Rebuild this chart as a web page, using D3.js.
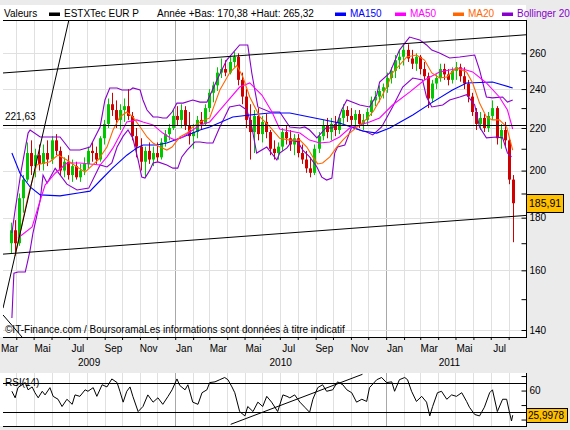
<!DOCTYPE html>
<html>
<head>
<meta charset="utf-8">
<title>ESTXTec EUR P</title>
<style>
  body { margin: 0; background: #ebebeb; }
  svg { display: block; font-family: "Liberation Sans", Arial, sans-serif; }
</style>
</head>
<body>
<svg id="chart" width="570" height="430"></svg>
<!-- load the d3.js library -->
<script src="https://d3js.org/d3.v7.min.js"></script>
<script>

// weekly candles (open, high, low, close), first week starts 23 march 2009
var firstWeek = "2009-03-23";
var candles = [
  [170,178,166,175],[175,179,166,170],[170,190,169,188],[188,198,182,196],[196,213,195,208],
  [208,214,198,202],[202,210,197,207],[207,212,200,203],[203,212,200,208],[208,214,202,205],
  [205,216,203,214],[214,217,207,209],[209,211,198,200],[200,206,197,204],[204,207,196,198],
  [198,205,195,202],[202,204,196,197],[197,203,195,200],[200,206,198,203],[203,211,201,209],
  [209,213,204,208],[208,211,203,205],[205,216,204,215],[215,224,212,222],[222,235,220,232],
  [232,238,226,229],[229,234,220,224],[224,232,219,229],[229,235,223,231],[231,240,224,226],
  [226,228,214,216],[216,220,206,211],[211,215,200,204],[204,211,197,209],[209,213,203,205],
  [205,211,202,208],[208,213,204,206],[206,215,205,213],[213,219,211,217],[217,222,214,220],
  [220,229,219,226],[226,231,221,224],[224,232,220,229],[229,231,219,221],[221,228,212,216],
  [216,222,210,218],[218,226,215,224],[224,228,219,222],[222,232,221,230],[230,240,228,238],
  [238,244,233,242],[242,252,239,249],[249,257,246,251],[251,256,247,249],[249,258,248,255],
  [255,261,252,258],[258,260,242,245],[245,249,232,236],[236,240,220,224],[224,232,205,218],
  [218,229,208,226],[226,230,214,217],[217,226,213,223],[223,227,215,218],[218,219,207,210],
  [210,214,205,208],[208,213,205,211],[211,220,209,218],[218,221,212,215],[215,219,209,212],
  [212,217,207,215],[215,217,206,208],[208,212,203,205],[205,209,199,201],[201,206,197,199],
  [199,212,198,210],[210,218,208,216],[216,224,214,221],[221,225,215,218],[218,225,214,222],
  [222,226,216,219],[219,227,217,225],[225,232,222,229],[229,231,223,226],[226,230,221,224],
  [224,229,220,227],[227,229,220,222],[222,227,219,224],[224,230,221,228],[228,236,226,234],
  [234,239,231,236],[236,242,233,239],[239,243,235,241],[241,249,238,246],[246,252,243,250],
  [250,259,246,256],[256,262,251,258],[258,265,253,262],[262,265.32,255,257],[257,262,251,254],
  [254,260,250,258],[258,259,248,251],[251,255,245,247],[247,249,230,235],[235,245,233,243],
  [243,248,240,246],[246,254,244,251],[251,254,245,248],[248,251,242,245],[245,252,243,250],
  [250,255,245,252],[252,254,244,247],[247,252,240,243],[243,245,233,236],[236,238,226,228],
  [228,230,219,222],[222,228,219,225],[225,227,218,220],[220,228,218,226],[226,234,224,230],
  [230,231,212,215],[215,222,210,219],[219,223,211,214],[214,215,194,196],[196,198,170.38,185.91]
];

// indicator lines as [week, value]
var ma150 = [[0.2,208],[2.2,198.8],[4.7,192.8],[7.2,189.4],[12.1,189],[17,190.3],[19.5,191],[22,195.5],
  [25,201],[28.6,207],[31.1,210.4],[32.6,211.8],[36,211.8],[38.5,212.7],[41.7,215],[44.9,217.5],
  [46.7,219],[49.1,220.5],[54.8,225.5],[59,226.5],[64,227.5],[68.9,227.5],[73.8,225.5],[81.2,222.5],
  [86.9,218.5],[90.4,217.5],[93.6,220],[99.3,226.5],[104.2,233.1],[109.1,239.5],[112.6,243.3],
  [119,243.8],[124,240.6]];

var ma50 = [[1.7,172],[5.2,176.3],[6.7,184.4],[8.4,193.6],[10.9,198.8],[13.8,203.4],[17,203.4],
  [22,202.5],[23.7,206.2],[25.2,210.4],[28.6,223],[31.1,224],[32.6,223],[35.1,221.5],[37.5,217.5],
  [39.3,215.2],[40.5,214.1],[42.5,215.6],[44.9,219],[46.7,221.5],[49.1,223],[52.3,230.6],[56.5,241.1],
  [59,243.3],[62,236.8],[64.5,228],[66.4,219.5],[71.4,217.5],[73.8,214.1],[76.3,212.7],[78.8,213.2],
  [81.2,215.6],[83.7,220],[86.2,221.5],[88.6,223],[91.1,225],[94.3,231.6],[98.5,238.4],[102.2,244.9],
  [105.9,249.4],[110.9,251.6],[114.1,249.4],[117.5,243.3],[120.7,235.8],[122.7,229],[124,219.5]];

var ma20 = [[1,165.2],[4.2,189],[6.3,202.5],[9.6,204],[11.6,207.1],[13.8,204.8],[16.3,201.6],[18.3,199.3],
  [21.5,204.8],[23.7,210.8],[25.2,219],[26.9,225.5],[28.6,228],[30.1,225.5],[31.9,220.5],[33.6,215.6],
  [35.1,212.7],[36.8,210.8],[38.5,209.4],[39.8,210.8],[41.7,215.6],[43.5,217.5],[44.9,220.5],[46.7,223],
  [49.1,225],[51.6,239.5],[54,248.8],[55.8,253],[57.3,246.6],[59,235.8],[61.5,225.5],[64,220.5],
  [66.4,215],[68.9,214.1],[71.4,214.1],[73.1,210.8],[74.6,206.2],[75.8,203],[77,203.4],[78.8,206.2],
  [80.5,210.8],[82,214.1],[83.7,217.5],[86.2,221.5],[87.9,224.5],[89.6,228.5],[91.1,234],[92.8,241],
  [94.3,248.8],[97.8,257.9],[100.2,259],[102.2,256.1],[104,248.8],[105.9,246],[107.7,246.6],
  [110.1,251.6],[112.6,249.4],[114.1,243.3],[115.8,232.6],[117.5,225.5],[119,224],[120.7,224],
  [122.5,220.5],[124,209.4]];

var bollUpper = [[0.2,173.9],[1,183.1],[2.5,200],[4.2,217.5],[4.7,219],[7.2,215.6],[9.6,215.6],
  [12.1,215.6],[14.6,209.4],[17,209.4],[19.5,210.8],[22,220.5],[23.2,234.2],[24.4,240.6],[26.2,240.6],
  [27.4,239.5],[29.4,239.5],[30.1,240.6],[31.9,239.5],[32.6,234.2],[33.6,229],[35.1,225.5],[36.3,225.5],
  [37.5,225],[38.5,225],[39.8,228],[41,232.6],[42.5,232.6],[44.9,234.2],[46.7,233.1],[48.4,233.1],
  [50.9,244.9],[53.3,256.1],[56.5,264.9],[58.5,264.9],[59.5,248.8],[61,230.6],[64,228],[66.4,228],
  [68.9,220.5],[71.4,220],[72.6,220.5],[73.8,219],[75.6,215.2],[77.8,220],[79.5,220],[80.7,223],
  [81.7,229],[83,234.2],[86.2,231.6],[88.6,230.6],[90.4,237],[91.1,243.8],[93.6,248.8],[96,261.9],
  [98.5,269.6],[101,267.9],[102.7,264.9],[104,261.9],[105.9,260.2],[108.4,257.3],[110.9,257.9],
  [114.6,259],[115.8,250.5],[117.5,235.8],[119,235.3],[121.5,235.8],[122.7,233.1],[124,234.2]];

var bollLower = [[0.2,143.8],[0.5,153.1],[0.7,159],[1.7,159.4],[3.5,159.4],[4,162.6],[4.7,167.4],
  [5.4,173.9],[6.3,180.3],[7.2,187.3],[7.9,198],[8.9,194.5],[9.6,196.7],[10.9,201],[13.8,194],
  [16.3,191.5],[19.2,192.3],[22,202.5],[23.7,201.6],[24.9,203.4],[26.2,210.8],[27.7,216],[28.9,219],
  [30.1,215],[31.4,204.8],[32.3,197.1],[33.1,196.7],[34.3,200.2],[35.1,203.4],[36.3,203.9],[38.5,202.5],
  [40,201.1],[41.2,201.1],[42.2,206.2],[43.5,209.4],[45.4,213.2],[46.7,213.2],[48.4,212.7],[49.9,212.7],
  [51.6,220.5],[54,230.6],[56.5,231.6],[58.3,229],[59.5,220.5],[60.7,208],[63.2,210.8],[65.7,204.8],
  [66.4,208],[68.2,210.4],[69.6,214.1],[70.9,213.2],[72.1,209.4],[73.8,206.2],[75.6,201.6],[76.8,197.1],
  [78,195.8],[79.3,196.7],[80,208],[80.7,210.8],[82.5,211.8],[84.2,220.5],[86.2,219],[87.9,218],
  [89.4,216.6],[91.6,220.5],[94.3,230.6],[96.8,241.1],[99.3,246],[101.7,245],[102.7,235.8],[104,230.6],
  [106.7,231.6],[108.4,234.2],[110.9,235.8],[112.6,237],[114.6,231.6],[115.8,220.5],[117.5,215.2],
  [120,215.6],[121.5,215.2],[122.7,208],[123.7,206.2]];

var rsi14 = [[0.2,59],[1,50],[1.7,64],[2.7,68],[3.5,71],[4.2,61],[5.2,65],[5.9,57],[6.7,50],[7.7,59],
  [8.4,54],[9.6,64],[10.4,52],[11.6,48],[12.6,38],[13.8,48],[15.1,41],[15.8,54],[17,52],[18.3,61],
  [19,59],[20.3,64],[21.2,52],[22.5,68],[23.7,65],[24.9,76],[26.2,71],[26.9,59],[27.7,44],[28.6,59],
  [29.4,65],[30.1,52],[31.4,31],[32.6,38],[33.8,54],[35.1,44],[36.3,50],[37.5,41],[38.8,52],[39.8,61],
  [41,76],[41.7,67],[43,61],[43.7,68],[44.9,44],[46.2,41],[47.2,57],[48.4,61],[49.1,71],[50.4,72],
  [51.6,75],[52.8,78],[53.6,75],[54.6,65],[55.3,57],[56.5,31],[57.8,25],[58.5,38],[59.8,31],[61,44],
  [62.2,38],[63.2,52],[64.4,44],[65.9,31],[67.2,54],[68.2,52],[68.9,50],[70.1,54],[71.4,44],[72.6,37],
  [73.8,30],[74.6,48],[75.8,64],[77,68],[78,59],[79.5,61],[80.7,72],[82,68],[83,61],[84.2,57],
  [85.4,44],[86.7,48],[87.9,45],[88.6,64],[90.4,75],[91.6,78],[92.8,71],[94.1,72],[94.8,59],[96,75],
  [97.3,78],[98,75],[99,59],[100.2,45],[101.5,52],[102.7,44],[103.5,25],[104.2,38],[105.4,57],[106.4,59],
  [107.7,48],[108.9,54],[110.1,52],[111.4,57],[112.6,45],[113.3,37],[114.6,27],[115.8,25],[117,37],
  [118.3,57],[119,61],[120.2,31],[121.5,48],[122.5,48],[123.2,30],[123.7,18],[124,26]];
var lastRsi = 25.9978;

// hand drawn lines, [date, value]
var trendLines = [
  [["2009-03-09", 248.8], ["2011-08-31", 271]],
  [["2009-03-09", 165.9], ["2011-08-31", 180.9]],
  [["2009-03-09", 147], ["2009-07-01", 280.1]],
  [["2009-03-09", 144.8], ["2009-04-11", 137.8]]
];
var rsiTrend = [["2010-04-07", 13.4], ["2010-11-21", 82.4]];
var level = 221.63;

var yearLow = 170.38, yearHigh = 265.32;
var priceTicks = [140, 160, 180, 200, 220, 240, 260];
var priceMinor = [150, 170, 190, 210, 230, 250];
var rsiTicks = [20, 40, 60, 80];
var rsiLevels = [30, 70];
var monthNames = ["Jan","Fév","Mar","Avr","Mai","Jui","Jul","Aoû","Sep","Oct","Nov","Déc"];
var legendNames = ["MA150", "MA50", "MA20", "Bollinger 20"];

// colours
var green = "#00c800", red = "#d00000";
var blue = "#0000ff", magenta = "#ff00ff", orange = "#ff6600", purple = "#8800cc";
var legendColors = [blue, magenta, orange, purple];

// panel edges (window.top is read only, so plotTop)
var left = 3, right = 526, plotTop = 20, bottom = 337;
var rsiTop = 373, rsiBottom = 426;

var parseDay = d3.timeParse("%Y-%m-%d");
var fr = d3.formatLocale({decimal: ",", thousands: " ", grouping: [3], currency: ["", " €"]});
var f2 = fr.format(".2f"), f4 = fr.format(".4f");

// set the ranges
var x = d3.scaleTime().domain([parseDay("2009-03-09"), parseDay("2011-08-31")]).range([left, right]);
var y = d3.scaleLog().domain([140, 260]).range([330, 53.3]);
var yRsi = d3.scaleLinear().domain([30, 70]).range([412.3, 383.3]);

var start = parseDay(firstWeek);
function weekDate(w) { return new Date(start.getTime() + w * 7 * 864e5); }
function crisp(v) { return Math.round(v) + 0.5; }

var svg = d3.select("#chart");

// grey page with white panels
svg.append("rect").attr("width", 570).attr("height", 430).attr("fill", "#ebebeb");
svg.append("rect").attr("x", 0).attr("y", 5).attr("width", right).attr("height", bottom - 5).attr("fill", "#fff");
svg.append("rect").attr("x", 0).attr("y", rsiTop).attr("width", right).attr("height", rsiBottom - rsiTop).attr("fill", "#fff");

// grid
var months = d3.timeMonth.range(x.domain()[0], x.domain()[1]);
[[plotTop, bottom], [rsiTop, rsiBottom]].forEach(function(band) {
  svg.append("g").selectAll("line").data(months).join("line")
    .attr("x1", function(d) { return crisp(x(d)); })
    .attr("x2", function(d) { return crisp(x(d)); })
    .attr("y1", band[0]).attr("y2", band[1])
    .attr("stroke", function(d) { return d.getMonth() === 0 ? "#a8a8a8" : "#e0e0e0"; });
});
svg.append("g").selectAll("line").data(priceTicks).join("line")
  .attr("x1", left).attr("x2", right)
  .attr("y1", function(d) { return crisp(y(d)); })
  .attr("y2", function(d) { return crisp(y(d)); })
  .attr("stroke", "#e0e0e0");

svg.append("clipPath").attr("id", "clipMain").append("rect")
  .attr("x", left).attr("y", plotTop).attr("width", right - left).attr("height", bottom - plotTop);
svg.append("clipPath").attr("id", "clipRsi").append("rect")
  .attr("x", left).attr("y", rsiTop).attr("width", right - left).attr("height", rsiBottom - rsiTop);

var plot = svg.append("g").attr("clip-path", "url(#clipMain)");

// candles
var candle = plot.append("g").selectAll("g").data(candles).join("g")
  .attr("stroke", function(d) { return d[3] >= d[0] ? green : red; })
  .attr("fill", function(d) { return d[3] >= d[0] ? green : red; });
candle.append("line")
  .attr("x1", function(d, i) { return crisp(x(weekDate(i))); })
  .attr("x2", function(d, i) { return crisp(x(weekDate(i))); })
  .attr("y1", function(d) { return y(d[1]); })
  .attr("y2", function(d) { return y(d[2]); });
candle.append("rect")
  .attr("stroke", "none")
  .attr("x", function(d, i) { return Math.round(x(weekDate(i))) - 1; })
  .attr("width", 3)
  .attr("y", function(d) { return Math.min(y(d[0]), y(d[3])); })
  .attr("height", function(d) { return Math.max(1, Math.abs(y(d[0]) - y(d[3]))); });

// indicator lines
var valueline = d3.line()
  .x(function(d) { return x(weekDate(d[0])); })
  .y(function(d) { return y(d[1]); });
[[bollUpper, purple], [bollLower, purple], [ma150, blue], [ma50, magenta], [ma20, orange]].forEach(function(s) {
  plot.append("path").datum(s[0])
    .attr("fill", "none").attr("stroke", s[1]).attr("stroke-width", 1.1)
    .attr("d", valueline);
});

// trend lines and the 221,63 level
var dateLine = d3.line()
  .x(function(d) { return x(parseDay(d[0])); })
  .y(function(d) { return y(d[1]); });
trendLines.forEach(function(t) {
  plot.append("path").datum(t).attr("fill", "none").attr("stroke", "#000").attr("d", dateLine);
});
plot.append("line")
  .attr("x1", left).attr("x2", right)
  .attr("y1", crisp(y(level))).attr("y2", crisp(y(level)))
  .attr("stroke", "#000").attr("stroke-width", 1.2);
svg.append("text").attr("x", 5).attr("y", y(level) - 4.5)
  .attr("font-size", 10).text(f2(level));

svg.append("text").attr("x", 5).attr("y", 333).attr("font-size", 10)
  .text("©IT-Finance.com / BoursoramaLes informations sont données à titre indicatif");

// frame of the main panel
svg.append("line").attr("x1", left).attr("x2", right).attr("y1", plotTop + 0.5).attr("y2", plotTop + 0.5).attr("stroke", "#000");
svg.append("line").attr("x1", left).attr("x2", right).attr("y1", bottom + 0.5).attr("y2", bottom + 0.5).attr("stroke", "#000");
svg.append("line").attr("x1", right + 0.5).attr("x2", right + 0.5).attr("y1", plotTop).attr("y2", bottom + 1).attr("stroke", "#000");

// right price axis
var yAxis = svg.append("g").attr("transform", "translate(" + (right + 0.5) + ",0)")
  .call(d3.axisRight(y).tickValues(priceTicks).tickSize(-5).tickPadding(3).tickFormat(d3.format("d")));
svg.append("g").attr("transform", "translate(" + (right + 0.5) + ",0)")
  .call(d3.axisRight(y).tickValues(priceMinor).tickSize(-5).tickFormat(""))
  .call(function(g) { g.select(".domain").remove(); });
yAxis.select(".domain").remove();
yAxis.selectAll("text").attr("font-size", 10).attr("font-family", "Liberation Sans, Arial, sans-serif");

// bottom time axis
svg.append("g").attr("transform", "translate(0," + bottom + ")")
  .call(d3.axisBottom(x).ticks(d3.timeMonth.every(1)).tickSize(3).tickSizeOuter(0).tickFormat(""))
  .call(function(g) { g.select(".domain").remove(); });

var x0 = x.domain()[0], x1 = x.domain()[1];
var labelled = d3.timeMonth.range(d3.timeMonth.floor(x0), x1)
  .filter(function(d) { return d.getMonth() % 2 === 0; });
svg.append("g").selectAll("text").data(labelled).join("text")
  .attr("x", function(d) {
    var a = d < x0 ? x0 : d, b = d3.timeMonth.offset(d, 1);
    return (x(a) + x(b > x1 ? x1 : b)) / 2;
  })
  .attr("y", 352).attr("font-size", 10).attr("text-anchor", "middle")
  .text(function(d) { return monthNames[d.getMonth()]; });

var lastDate = weekDate(candles.length - 1);
var years = d3.timeYear.range(d3.timeYear.floor(x0), lastDate);
svg.append("g").selectAll("text").data(years).join("text")
  .attr("x", function(d) {
    var a = d < x0 ? x0 : d, b = d3.timeYear.offset(d, 1);
    return (x(a) + x(b > lastDate ? lastDate : b)) / 2;
  })
  .attr("y", 366).attr("font-size", 10).attr("text-anchor", "middle")
  .text(function(d) { return d.getFullYear(); });

// last price box
var lastClose = candles[candles.length - 1][3];
var by = y(lastClose);
svg.append("rect").attr("x", right + 0.5).attr("y", Math.round(by - 9) + 0.5)
  .attr("width", 37).attr("height", 18).attr("fill", "#ffc000").attr("stroke", "#000");
svg.append("text").attr("x", right + 3).attr("y", by + 4).attr("font-size", 10.5).text(f2(lastClose));

// RSI panel
var rsiG = svg.append("g").attr("clip-path", "url(#clipRsi)");
rsiG.selectAll(".lvl").data(rsiLevels).join("line")
  .attr("x1", left).attr("x2", right)
  .attr("y1", function(d) { return crisp(yRsi(d)); })
  .attr("y2", function(d) { return crisp(yRsi(d)); })
  .attr("stroke", "#000");
var rsiLine = d3.line()
  .x(function(d) { return x(weekDate(d[0])); })
  .y(function(d) { return yRsi(d[1]); });
rsiG.append("path").datum(rsi14).attr("fill", "none").attr("stroke", "#000").attr("d", rsiLine);
rsiG.append("path").datum(rsiTrend).attr("fill", "none").attr("stroke", "#000")
  .attr("d", d3.line().x(function(d) { return x(parseDay(d[0])); }).y(function(d) { return yRsi(d[1]); }));
svg.append("text").attr("x", 5).attr("y", 386).attr("font-size", 10).text("RSI(14)");

svg.append("line").attr("x1", left).attr("x2", right).attr("y1", rsiBottom + 0.5).attr("y2", rsiBottom + 0.5).attr("stroke", "#000");
svg.append("line").attr("x1", right + 0.5).attr("x2", right + 0.5).attr("y1", rsiTop).attr("y2", rsiBottom + 1).attr("stroke", "#000");
var rAxis = svg.append("g").attr("transform", "translate(" + (right + 0.5) + ",0)")
  .call(d3.axisRight(yRsi).tickValues(rsiTicks).tickSize(-5).tickPadding(3)
    .tickFormat(function(d) { return d === 60 ? d : ""; }));
rAxis.select(".domain").remove();
rAxis.selectAll("text").attr("font-size", 10).attr("font-family", "Liberation Sans, Arial, sans-serif");

var ry = yRsi(lastRsi);
svg.append("rect").attr("x", right + 0.5).attr("y", Math.round(ry - 7) + 0.5)
  .attr("width", 41).attr("height", 14).attr("fill", "#ffc000").attr("stroke", "#000");
svg.append("text").attr("x", right + 2).attr("y", ry + 3.5).attr("font-size", 10).text(f4(lastRsi));

// header legend
var head = svg.append("g").attr("font-size", 10);
head.append("text").attr("x", 4).attr("y", 17).text("Valeurs");
head.append("rect").attr("x", 49).attr("y", 12.5).attr("width", 11).attr("height", 3.5).attr("fill", "#000");
head.append("text").attr("x", 64).attr("y", 17).text("ESTXTec EUR P");
head.append("text").attr("x", 157).attr("y", 17)
  .text("Année +Bas: " + f2(yearLow) + " +Haut: " + f2(yearHigh));
var legendX = [335, 395, 453, 502];
legendNames.forEach(function(n, i) {
  head.append("rect").attr("x", legendX[i]).attr("y", 12.5).attr("width", 11).attr("height", 3.5)
    .attr("fill", legendColors[i]);
  head.append("text").attr("x", legendX[i] + 15).attr("y", 17).attr("fill", legendColors[i]).text(n);
});

</script>
</body>
</html>
